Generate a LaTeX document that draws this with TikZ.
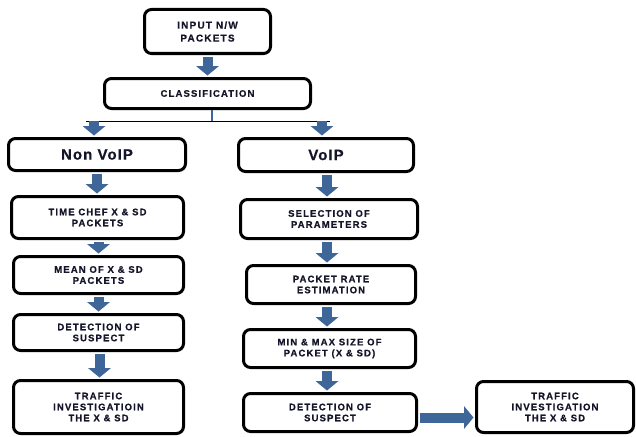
\documentclass[tikz,border=0pt]{standalone}
\usepackage{fontspec}
\setmainfont{Liberation Sans}
\newfontfamily\lbl{Liberation Sans Bold}[LetterSpace=12, FakeBold=0.6]
\newfontfamily\lblbig{Liberation Sans Bold}[LetterSpace=7, FakeBold=0.5]
\usetikzlibrary{arrows.meta}
\definecolor{arrowblue}{HTML}{3F6698}
\definecolor{txt}{HTML}{15152A}
\begin{document}
\begin{tikzpicture}[x=1pt,y=-1pt,
  box/.style={draw=black, line width=3pt, rounded corners=7pt, fill=white,
    inner sep=0pt, align=center, text=txt,
    font=\lbl\fontsize{9.5}{11}\selectfont},
  bigbox/.style={box, font=\lblbig\fontsize{15}{17}\selectfont},
  inbox/.style={box, font=\lbl\fontsize{10}{13}\selectfont},
  blk/.style={draw=arrowblue, line width=10pt, shorten <=1.5pt, shorten >=1.5pt,
    -{Triangle[width=23pt,length=9.5pt,line width=0pt]}},
  thinline/.style={draw=black, line width=1.2pt},
  bluetick/.style={draw=arrowblue, line width=1.5pt}]
\useasboundingbox (0,0) rectangle (636,436);
\fill[white] (0,0) rectangle (636,436);

\node[inbox, minimum width=126pt, minimum height=44pt] (in) at (207.5,31.5) {INPUT N/W\\PACKETS};
\node[box, minimum width=206pt, minimum height=30pt] (cls) at (207.5,93.5) {CLASSIFICATION};
\node[bigbox, minimum width=177pt, minimum height=32pt] (nv) at (97,154.5) {Non VoIP};
\node[bigbox, minimum width=175pt, minimum height=33pt] (v) at (326,155) {VoIP};

\node[box, minimum width=172pt, minimum height=42pt] (tc) at (97.5,217.5) {TIME CHEF X \& SD\\PACKETS};
\node[box, minimum width=170pt, minimum height=37pt] (mean) at (98.5,275) {MEAN OF X \& SD\\PACKETS};
\node[box, minimum width=170pt, minimum height=36pt] (det1) at (98.5,332.5) {DETECTION OF\\SUSPECT};
\node[box, minimum width=170pt, minimum height=53pt] (tr1) at (98.5,407) {TRAFFIC\\INVESTIGATIOIN\\THE X \& SD};

\node[box, minimum width=177pt, minimum height=39pt] (sel) at (329,219) {SELECTION OF\\PARAMETERS};
\node[box, minimum width=169pt, minimum height=38pt] (pr) at (331,284.5) {PACKET RATE\\ESTIMATION};
\node[box, minimum width=172pt, minimum height=38pt] (mm) at (329.5,348.5) {MIN \& MAX SIZE OF\\PACKET (X \& SD)};
\node[box, minimum width=173pt, minimum height=38pt] (det2) at (330,412.5) {DETECTION OF\\SUSPECT};
\node[box, minimum width=157pt, minimum height=51pt] (tr2) at (555,407) {TRAFFIC\\INVESTIGATION\\THE X \& SD};

\coordinate (hl) at (86,121.5);
\coordinate (hr) at (330,121.5);
\coordinate (lt) at (94,121);
\coordinate (rt) at (322,121);

\draw[blk] (in.south) -- (cls.north);
\draw[bluetick] ([xshift=4.5pt]cls.south) -- ([xshift=4.5pt]cls.south |- hl);
\draw[thinline] (hl) -- (hr);
\draw[blk, shorten <=0pt] (lt) -- (lt |- nv.north);
\draw[blk, shorten <=0pt] (rt) -- (rt |- v.north);

\draw[blk] (nv.south) -- (nv.south |- tc.north);
\draw[blk] ([xshift=1pt]tc.south) -- ([xshift=1pt]tc.south |- mean.north);
\draw[blk] ([xshift=1pt]mean.south -| tc.south) -- ([xshift=1pt]tc.south |- det1.north);
\draw[blk] ([xshift=2pt]det1.south -| tc.south) -- ([xshift=2pt]tc.south |- tr1.north);

\draw[blk] ([xshift=-2pt]v.south -| sel.south) -- ([xshift=-2pt]sel.south |- sel.north);
\draw[blk] ([xshift=-2pt]sel.south) -- ([xshift=-2pt]sel.south |- pr.north);
\draw[blk] ([xshift=-2pt]pr.south -| sel.south) -- ([xshift=-2pt]sel.south |- mm.north);
\draw[blk] ([xshift=-2pt]mm.south -| sel.south) -- ([xshift=-2pt]sel.south |- det2.north);

\draw[blk] ([yshift=-5pt]det2.east) -- ([yshift=-5pt]det2.east -| tr2.west);
\end{tikzpicture}
\end{document}
